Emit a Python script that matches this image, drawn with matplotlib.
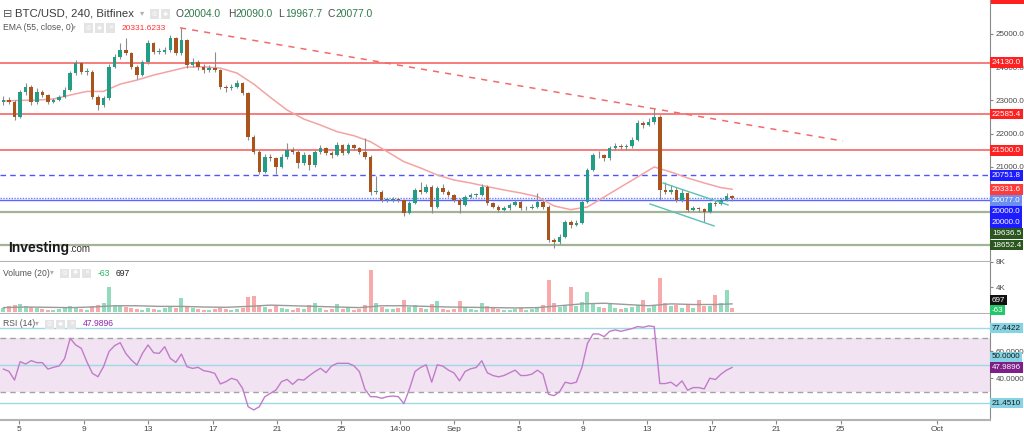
import numpy as np
import matplotlib
matplotlib.use("Agg")
import matplotlib.pyplot as plt
from matplotlib.patches import Rectangle

# ---- data (8h candles, Aug 4 -> Sep 18) ----
first_open = 22950
closes = [23010, 22960, 22510, 23260, 23410, 22950, 23260, 23160, 22960, 23010,
          23100, 23310, 23810, 24110, 23860, 23860, 23110, 22860, 23070, 24010,
          24310, 24510, 24410, 24010, 23760, 24160, 24710, 24460, 24460, 24510,
          24860, 24410, 24810, 24060, 24160, 24010, 23910, 23960, 23910, 23410,
          23360, 23410, 23510, 23210, 21910, 21460, 20860, 21310, 21260, 21010,
          21310, 21510, 21460, 21110, 21360, 21060, 21460, 21560, 21410, 21360,
          21660, 21410, 21660, 21560, 21460, 21310, 20260, 20260, 20010, 20010,
          20030, 20010, 19610, 19910, 20310, 20260, 20410, 19810, 20360, 20260,
          20160, 20010, 19860, 20110, 20160, 20160, 20410, 19910, 19810, 19710,
          19760, 19860, 19960, 19760, 19760, 19810, 19960, 19810, 18810, 18760,
          18910, 19360, 19260, 19330, 19960, 20910, 21360, 21360, 21260, 21560,
          21630, 21610, 21630, 21810, 22310, 22260, 22360, 22510, 20310, 20260,
          20310, 20010, 20210, 19710, 19760, 19730, 19660, 19910, 19880, 20010,
          20130, 20077]
highs = [23120, 23100, 23000, 23300, 23520, 23450, 23380, 23300, 23200, 23080,
         23160, 23400, 23880, 24210, 24160, 23960, 23900, 23150, 23120, 24080,
         24400, 24710, 24860, 24450, 24060, 24220, 24810, 24760, 24560, 24600,
         24960, 24900, 25180, 24850, 24260, 24210, 24100, 24050, 24460, 23950,
         23460, 23500, 23610, 23560, 23250, 21950, 21500, 21380, 21380, 21300,
         21400, 21710, 21600, 21500, 21450, 21400, 21520, 21650, 21600, 21480,
         21760, 21700, 21720, 21700, 21600, 21860, 21350, 20720, 20300, 20080,
         20100, 20080, 20050, 19980, 20380, 20560, 20480, 20450, 20420, 20500,
         20300, 20200, 20060, 20160, 20220, 20230, 20500, 20450, 19960, 19860,
         19820, 19920, 20010, 20000, 19830, 19880, 20210, 20000, 19850, 18860,
         18980, 19420, 19400, 19400, 20010, 20960, 21420, 21480, 21400, 21640,
         21720, 21700, 21700, 21900, 22400, 22380, 22460, 22730, 22550, 20560,
         20450, 20400, 20330, 20260, 19830, 19800, 19760, 19960, 20000, 20070,
         20220, 20150]
lows = [22850, 22880, 22410, 22480, 23150, 22850, 22900, 23100, 22900, 22920,
        22980, 23060, 23280, 23760, 23800, 23760, 23050, 22710, 22800, 23020,
        23960, 24250, 24350, 23950, 23650, 23720, 24100, 24400, 24380, 24400,
        24460, 24350, 24360, 23980, 24000, 23900, 23820, 23860, 23860, 23350,
        23250, 23300, 23380, 23150, 21800, 21380, 20790, 20820, 21180, 20790,
        20960, 21250, 21380, 20980, 21050, 20910, 21000, 21400, 21350, 21280,
        21320, 21350, 21380, 21500, 21400, 21250, 20160, 20180, 19950, 19950,
        19960, 19940, 19530, 19580, 19880, 20200, 20220, 19610, 19760, 20200,
        20100, 19950, 19610, 19820, 20060, 20100, 20120, 19860, 19760, 19660,
        19680, 19720, 19820, 19700, 19700, 19740, 19780, 19750, 18740, 18560,
        18700, 18880, 19180, 19220, 19300, 19920, 20880, 21280, 21180, 21220,
        21500, 21540, 21520, 21580, 21780, 22160, 22220, 22300, 20010, 20180,
        20200, 19960, 19960, 19650, 19680, 19650, 19360, 19620, 19840, 19860,
        19990, 19970]
volumes = [700, 900, 1100, 1300, 900, 800, 600, 500, 400, 400,
           500, 700, 900, 800, 500, 400, 1000, 1200, 1400, 4000,
           1000, 900, 800, 600, 500, 400, 700, 500, 400, 600,
           800, 600, 2200, 900, 700, 500, 400, 400, 500, 700,
           500, 400, 500, 700, 2400, 2600, 1200, 800, 500, 1000,
           700, 500, 400, 600, 500, 1100, 1500, 600, 400, 500,
           1300, 500, 700, 400, 500, 1200, 6800, 1500, 800, 500,
           500, 600, 1900, 800, 1100, 600, 500, 1300, 1700, 500,
           400, 500, 1700, 800, 500, 400, 1500, 900, 600, 500,
           400, 400, 500, 600, 400, 500, 800, 1200, 5100, 1500,
           800, 900, 4000, 1000, 1600, 3200, 1400, 800, 600, 1500,
           700, 500, 600, 800, 1200, 1900, 700, 1200, 5400, 1500,
           900, 1100, 700, 1300, 600, 1900, 900, 1000, 2800, 1500,
           3500, 697]
rsi = [46.8, 45.1, 38.6, 52.3, 50.6, 53.1, 51.6, 51.6, 46.8, 48.1,
       49.1, 54.6, 69.7, 64.8, 62.3, 52.3, 43.6, 41.1, 48.6, 60.0,
       64.3, 66.5, 58.5, 53.6, 49.8, 58.5, 64.8, 59.0, 58.5, 63.5,
       54.8, 51.8, 58.0, 48.6, 47.3, 48.1, 45.6, 44.9, 43.6, 35.7,
       37.4, 39.9, 38.6, 32.4, 18.7, 16.3, 18.7, 26.2, 28.7, 31.2,
       37.4, 39.1, 35.4, 39.1, 38.6, 41.9, 44.9, 47.4, 44.1, 49.1,
       51.1, 51.1, 51.1, 49.3, 44.9, 31.7, 26.2, 26.2, 25.0, 26.2,
       26.7, 26.2, 21.0, 32.0, 45.0, 48.0, 50.0, 37.0, 50.0, 49.0,
       46.0, 44.0, 38.0, 45.0, 47.0, 48.0, 53.0, 44.0, 42.0, 41.0,
       42.0, 44.0, 46.0, 42.0, 42.0, 43.0, 46.0, 43.0, 28.0, 27.0,
       30.0, 37.0, 36.0, 37.0, 48.0, 66.0, 73.0, 73.0, 71.0, 75.0,
       76.0, 75.0, 76.0, 77.0, 78.5, 78.0, 79.0, 78.5, 36.0, 36.0,
       37.0, 34.0, 38.0, 31.0, 33.0, 33.0, 32.0, 40.0, 39.0, 43.0,
       46.0, 47.99]
ema_idx = list(range(0, 130, 3)) + [131]
ema = [22980, 23000, 23010, 23040, 23160, 23270, 23270, 23490, 23610, 23760,
       23880, 24000, 24010, 23970, 23820, 23490, 23090, 22710, 22440, 22260,
       22060, 21940, 21760, 21460, 21160, 20970, 20760, 20610, 20520, 20410,
       20310, 20220, 20110, 19830, 19720, 19800, 20100, 20400, 20700, 21000,
       20850, 20670, 20520, 20380, 20331.6]
vol_ma_idx = list(range(0, 129, 4)) + [131]
vol_ma = [700, 800, 750, 700, 800, 1000, 1000, 900, 900, 800,
          750, 900, 1100, 1000, 900, 800, 700, 1000, 1000, 900,
          800, 750, 700, 650, 700, 1000, 1300, 1400, 1200, 1000,
          1300, 1200, 1200, 1300]

# drawn levels / lines
red_levels = [24130.0, 22585.4, 21500.0]
blue_dashed = 20751.8
blue_dotted = 20077.0
blue_solid = 20000.0
green_levels = [19636.5, 18652.4]
trend_days = [9.97, 51.15]
trend_prices = [25180, 21780]
chan_up_days = [39.97, 44.01]
chan_up_prices = [20520, 19860]
chan_lo_days = [39.16, 43.14]
chan_lo_prices = [19890, 19230]
rsi_levels = [77.4422, 50.0, 21.451]

# x axis (days counted from Aug 5)
tick_days = [0, 4, 8, 12, 16, 20, 23.63, 27, 31, 35, 39, 43, 47, 51, 57]
tick_labels = ['5', '9', '13', '17', '21', '25', '14:00', 'Sep', '5', '9',
               '13', '17', '21', '25', 'Oct']
day0, step = -1.0, 0.3455   # first candle, candle spacing in days

UP, DN = '#229e86', '#a9541d'
NARROW = ['Liberation Sans Narrow', 'DejaVu Sans Condensed', 'Liberation Sans']
plt.rcParams['font.family'] = ['Liberation Sans', 'DejaVu Sans']
TAGSIZE = 5.8

W, H = 1024, 432
fig = plt.figure(figsize=(W / 100, H / 100), dpi=100)


def px_axes(top, bottom):
    return fig.add_axes([0, 1 - bottom / H, 990 / W, (bottom - top) / H])


ax_p = px_axes(0, 262)
ax_v = px_axes(262, 314)
ax_r = px_axes(314, 420)

n = len(closes)
days = day0 + step * np.arange(n)
c = np.array(closes, float)
o = np.array([first_open] + closes[:-1], float)
up = c >= o

# ---- price panel ----
ax_p.vlines(days, lows, highs, color='#8c8c8c', lw=0.8, zorder=3)
ax_p.bar(days, np.maximum(np.abs(c - o), 15), bottom=np.minimum(o, c), width=0.22,
         color=np.where(up, UP, DN), linewidth=0, zorder=4)
ax_p.plot(days[ema_idx], ema, color='#f4a3a3', lw=1.1, zorder=2)
for v in red_levels:
    ax_p.axhline(v, color='#f45a5a', lw=1.1, zorder=1)
ax_p.axhline(blue_dashed, color='#4d55ff', lw=1.0, ls=(0, (4, 3)), zorder=1)
ax_p.axhline(blue_dotted, color='#6b7dff', lw=1.0, ls=(0, (1, 1)), zorder=1)
ax_p.axhline(blue_solid, color='#5a66ff', lw=1.0, zorder=1)
for v in green_levels:
    ax_p.axhline(v, color='#a3b396', lw=1.6, zorder=1)
ax_p.plot(trend_days, trend_prices, color='#f26b6b', lw=1.1, ls=(0, (4, 4)), zorder=1)
ax_p.plot(chan_up_days, chan_up_prices, color='#5cc2b2', lw=1.0, zorder=5)
ax_p.plot(chan_lo_days, chan_lo_prices, color='#5cc2b2', lw=1.0, zorder=5)
ax_p.set_ylim(18147, 26015)
ax_p.set_yticks([21000, 22000, 23000, 24000, 25000])
ax_p.set_yticklabels(['%.1f' % t for t in ax_p.get_yticks()])

# ---- volume panel ----
ax_v.bar(days, volumes, width=0.25, color=np.where(up, '#92dcbd', '#f8aaaa'), linewidth=0)
ax_v.plot(days[vol_ma_idx], vol_ma, color='#9a9a9a', lw=1.0)
ax_v.set_ylim(-320, 8000)
ax_v.set_yticks([4000, 8000])
ax_v.set_yticklabels(['4K', '8K'])

# ---- RSI panel ----
ax_r.axhspan(30, 70, color='#f1e3f2', lw=0)
for v in (70, 30):
    ax_r.axhline(v, color='#a3a3a3', lw=1.0, ls=(0, (4, 3)))
for v in rsi_levels:
    ax_r.axhline(v, color='#9fd8e6', lw=1.0)
ax_r.plot(days, rsi, color='#c27bca', lw=1.0)
ax_r.set_ylim(8.8, 87.9)
ax_r.set_yticks([40, 60])
ax_r.set_yticklabels(['40.0000', '60.0000'])

for ax in (ax_p, ax_v, ax_r):
    ax.set_xlim(-1.211, 60.28)
    ax.set_facecolor('white')
    ax.spines['top'].set_visible(False)
    ax.spines['left'].set_visible(False)
    ax.spines['right'].set_color('#8a8a8a')
    ax.spines['bottom'].set_color('#b3b3b3')
    ax.spines['bottom'].set_linewidth(1.5)
    ax.yaxis.tick_right()
    ax.tick_params(axis='y', labelsize=TAGSIZE, labelcolor='#4a4a4a', color='#888888',
                   length=2.5, pad=1.5, width=0.8)
    for t in ax.get_yticklabels():
        t.set_family(NARROW)
    if ax is not ax_r:
        ax.tick_params(axis='x', bottom=False, labelbottom=False)

ax_r.set_xticks(tick_days)
ax_r.set_xticklabels(tick_labels, fontsize=6, color='#444444', family=NARROW)
ax_r.tick_params(axis='x', length=3, pad=1, color='#888888')


# ---- right side value tags ----
def tag(row, text, fc, tc='white'):
    fig.text(992 / W, 1 - row / H, text, ha='left', va='center', fontsize=TAGSIZE,
             color=tc, family=NARROW, zorder=10,
             bbox=dict(boxstyle='square,pad=0.22', fc=fc, ec='none'))


def row_of(ax, v):
    return H - ax.transData.transform((0, v))[1]


price_tags = [(24130.0, '#ff2020', 'white'), (22585.4, '#ff2020', 'white'),
              (21500.0, '#ff2020', 'white'), (20751.8, '#1c1cff', 'white'),
              (20331.6, '#ff3b3b', 'white'), (20077.0, '#6b8ff0', 'white'),
              (20000.0, '#1c1cff', 'white'), (20000.0, '#1c1cff', 'white'),
              (19636.5, '#2b561e', 'white'), (18652.4, '#2b561e', 'white')]
prev = -99
for v, fc, tc in price_tags:
    r = max(row_of(ax_p, v), prev + 11)
    tag(r, '%.1f' % v, fc, tc)
    prev = r
fig.add_artist(Rectangle((991 / W, 1 - 4 / H), 33 / W, 4 / H, transform=fig.transFigure,
                         fc='#ff2020', ec='none'))

tag(300, '697', '#111111')
tag(310, '-63', '#22c76a')

r_cur = row_of(ax_r, 47.9896)
tag(row_of(ax_r, 77.4422), '77.4422', '#86d3e4', '#1a1a1a')
tag(min(row_of(ax_r, 50.0), r_cur - 10.5), '50.0000', '#86d3e4', '#1a1a1a')
tag(r_cur, '47.9896', '#7e1f88')
tag(row_of(ax_r, 21.451), '21.4510', '#86d3e4', '#1a1a1a')


# ---- panel headers ----
def ftext(px, py, s, **kw):
    kw.setdefault('ha', 'left')
    kw.setdefault('va', 'center')
    fig.text(px / W, 1 - py / H, s, **kw)


def icons(xs, py, size=9):
    for x, sym in zip(xs, ['◎', '✱', '✕']):
        fig.add_artist(Rectangle((x / W, 1 - (py + size / 2) / H), size / W, size / H,
                                 transform=fig.transFigure, fc='#e4e4e4', ec='none'))
        ftext(x + size / 2, py, sym, ha='center', fontsize=4.5, color='white')


ftext(3, 14, '⊟', fontsize=8, color='#555555')
ftext(15, 14, 'BTC/USD, 240, Bitfinex', fontsize=8.2, color='#3b3b3b')
ftext(140, 14, '▾', fontsize=6, color='#b0b0b0')
icons([150, 161], 14)
for x, letter, val in [(176, 'O', '20004.0'), (228, 'H', '20090.0'),
                       (278, 'L', '19967.7'), (328, 'C', '20077.0')]:
    ftext(x, 14, letter, fontsize=7.4, color='#4a4a4a')
    ftext(x + 7.5, 14, val, fontsize=7.4, color='#2f7a4a')

ftext(3, 28, 'EMA (55, close, 0)', fontsize=6.2, color='#555555')
ftext(72, 28, '▾', fontsize=5.5, color='#b0b0b0')
icons([84, 95, 106], 28)
ftext(122, 28, '20331.6233', fontsize=6.0, color='#ff3030')

ftext(8, 248, 'Investing', fontsize=10, weight='bold', color='#1a1a1a')
ftext(69, 249, '.com', fontsize=7, color='#333333')

ftext(3, 273, 'Volume (20)', fontsize=6.2, color='#555555')
ftext(50, 273, '▾', fontsize=5.5, color='#b0b0b0')
icons([60, 71, 82], 273)
ftext(98, 273, '-63', fontsize=6.2, color='#22b866')
ftext(116, 273, '697', fontsize=6.2, color='#222222')

ftext(3, 324, 'RSI (14)', fontsize=6.2, color='#555555')
ftext(35, 324, '▾', fontsize=5.5, color='#b0b0b0')
icons([45, 56, 67], 324)
ftext(83, 324, '47.9896', fontsize=6.2, color='#8e24aa')

fig.savefig('out.png', dpi=100)
